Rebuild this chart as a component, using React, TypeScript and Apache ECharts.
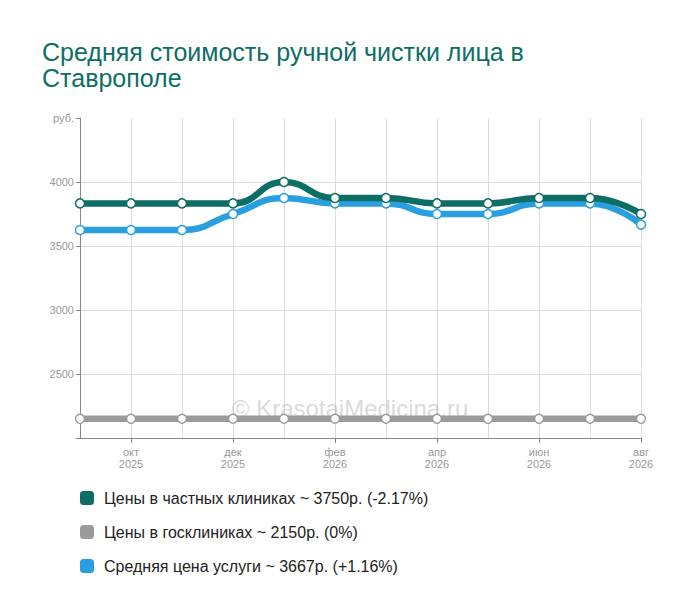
import React, { useEffect, useRef } from 'react';
import * as echarts from 'echarts';

const months = ['сен\n2025', 'окт\n2025', 'ноя\n2025', 'дек\n2025', 'янв\n2026', 'фев\n2026', 'мар\n2026', 'апр\n2026', 'май\n2026', 'июн\n2026', 'июл\n2026', 'авг\n2026'];
const privatePrices = [3833, 3833, 3833, 3833, 4000, 3875, 3875, 3833, 3833, 3875, 3875, 3750];
const statePrices = [2150, 2150, 2150, 2150, 2150, 2150, 2150, 2150, 2150, 2150, 2150, 2150];
const averagePrices = [3625, 3625, 3625, 3750, 3875, 3833, 3833, 3750, 3750, 3833, 3833, 3667];
const seriesNames = [
  'Цены в частных клиниках ~ 3750р. (-2.17%)',
  'Цены в госклиниках ~ 2150р. (0%)',
  'Средняя цена услуги ~ 3667р. (+1.16%)',
];

const GREEN = '#0d6e65';
const GRAY = '#9b9b9b';
const BLUE = '#2a9fe0';
const FONT = '"Liberation Sans", Arial, sans-serif';

const lineSeries = (name: string, data: number[], color: string, z: number) => ({
  name,
  type: 'line',
  data,
  smooth: true,
  z,
  symbol: 'circle',
  symbolSize: 9,
  lineStyle: { color, width: 6.5 },
  itemStyle: { color: '#fff', borderColor: color, borderWidth: 1.5 },
  emphasis: { disabled: true },
});

const App: React.FC = () => {
  const ref = useRef<HTMLDivElement>(null);

  useEffect(() => {
    if (!ref.current) return;
    const chart = echarts.init(ref.current, null, { renderer: 'svg' });
    const everyOther = (i: number) => i % 2 === 1;

    chart.setOption({
      animation: false,
      backgroundColor: '#fff',
      textStyle: { fontFamily: FONT },
      title: {
        text: 'Средняя стоимость ручной чистки лица в\nСтаврополе',
        left: 37,
        top: 34,
        textStyle: { color: GREEN, fontSize: 25, fontWeight: 'normal', fontFamily: FONT, lineHeight: 26 },
      },
      grid: { left: 80, right: 59, top: 118, bottom: 178 },
      xAxis: {
        type: 'category',
        data: months,
        boundaryGap: false,
        axisLine: { lineStyle: { color: '#888' } },
        axisTick: { interval: everyOther, length: 5, lineStyle: { color: '#888' } },
        axisLabel: { interval: everyOther, color: '#999', fontSize: 11, lineHeight: 12, margin: 8 },
        splitLine: { show: true, interval: 0, lineStyle: { color: '#dcdcdc' } },
      },
      yAxis: {
        type: 'value',
        min: 2000,
        max: 4500,
        interval: 500,
        axisLine: { show: true, lineStyle: { color: '#888' } },
        axisTick: { show: true, length: 4, lineStyle: { color: '#888' } },
        axisLabel: {
          color: '#999',
          fontSize: 11,
          margin: 6,
          formatter: (v: number) => (v === 4500 ? 'руб.' : v === 2000 ? '' : String(v)),
        },
        splitLine: {
          lineStyle: { color: ['transparent', '#dcdcdc', '#dcdcdc', '#dcdcdc', '#dcdcdc', 'transparent'] },
        },
      },
      legend: {
        orient: 'vertical',
        left: 80,
        top: 490,
        padding: 0,
        itemWidth: 14,
        itemHeight: 14,
        itemGap: 18,
        icon: 'roundRect',
        selectedMode: false,
        textStyle: { color: '#222', fontSize: 16, fontFamily: FONT, padding: [0, 0, 0, 5] },
        data: [
          { name: seriesNames[0], itemStyle: { color: GREEN, borderWidth: 0 } },
          { name: seriesNames[1], itemStyle: { color: GRAY, borderWidth: 0 } },
          { name: seriesNames[2], itemStyle: { color: BLUE, borderWidth: 0 } },
        ],
      },
      graphic: [
        {
          type: 'text',
          left: 'center',
          top: 396,
          z: 1,
          style: {
            text: '© KrasotaiMedicina.ru',
            fill: 'rgba(160,160,160,0.4)',
            fontSize: 24,
            fontFamily: FONT,
          },
        },
      ],
      series: [
        lineSeries(seriesNames[0], privatePrices, GREEN, 4),
        lineSeries(seriesNames[1], statePrices, GRAY, 2),
        lineSeries(seriesNames[2], averagePrices, BLUE, 3),
      ],
    });

    return () => chart.dispose();
  }, []);

  return <div ref={ref} style={{ position: 'absolute', left: 0, top: 0, width: 700, height: 616 }} />;
};

export default App;
